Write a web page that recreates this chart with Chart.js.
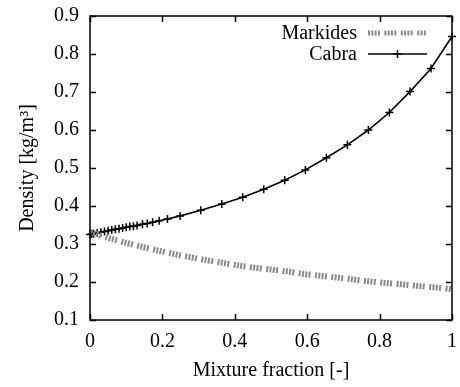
<!DOCTYPE html>
<html>
<head>
<meta charset="utf-8">
<script src="https://cdn.jsdelivr.net/npm/chart.js@4/dist/chart.umd.min.js"></script>
<style>
  html, body { margin: 0; padding: 0; background: #fff; }
  #wrap { width: 460px; height: 387px; }
</style>
</head>
<body>
<div id="wrap"><canvas id="c" width="460" height="387"></canvas></div>
<script>
// Mixture fraction grid and density for the Cabra data (kg/m^3)
const cabraZ = [0, 0.005, 0.01, 0.02, 0.03, 0.04, 0.05, 0.06, 0.07, 0.08, 0.09, 0.10, 0.11, 0.12, 0.13,
  0.145, 0.158, 0.173, 0.191, 0.214, 0.249, 0.306, 0.364, 0.422, 0.480, 0.538, 0.595, 0.653,
  0.711, 0.769, 0.827, 0.884, 0.942, 1.0];
const cabraRho = [0.325, 0.326, 0.327, 0.329, 0.331, 0.333, 0.335, 0.337, 0.339, 0.340, 0.342, 0.344, 0.346, 0.347, 0.349,
  0.352, 0.354, 0.357, 0.361, 0.366, 0.374, 0.389, 0.405, 0.423, 0.444, 0.468, 0.495, 0.527,
  0.561, 0.600, 0.646, 0.701, 0.762, 0.846];

// Markides data
const markidesZ = [0, 0.05, 0.1, 0.15, 0.2, 0.25, 0.3, 0.35, 0.4, 0.45, 0.5, 0.55, 0.6, 0.65, 0.7, 0.75, 0.8, 0.85, 0.9, 0.95, 1.0];
const markidesRho = [0.332, 0.316, 0.303, 0.291, 0.280, 0.270, 0.261, 0.253, 0.245, 0.238, 0.233, 0.227, 0.220, 0.215, 0.210,
  0.204, 0.199, 0.195, 0.190, 0.186, 0.181];

// Axis tick values
const xTicks = [0, 0.2, 0.4, 0.6, 0.8, 1];
const yTicks = [0.1, 0.2, 0.3, 0.4, 0.5, 0.6, 0.7, 0.8, 0.9];

const serif = "'Liberation Serif', 'DejaVu Serif', serif";
const markidesDash = [2, 1.3, 2, 1.3, 2, 1.3, 2, 4.5];

const toPoints = (xs, ys) => xs.map((x, i) => ({ x: x, y: ys[i] }));

// Frame, inward ticks on all four sides, and the key in the upper right
const framePlugin = {
  id: 'frame',
  afterDraw(chart) {
    const { ctx, chartArea: a, scales } = chart;
    const xs = scales.x, ys = scales.y;
    const tl = 6;
    ctx.save();
    ctx.strokeStyle = '#000';
    ctx.lineWidth = 1.5;
    ctx.beginPath();
    xTicks.forEach(v => {
      const px = Math.round(xs.getPixelForValue(v)) + 0.5;
      ctx.moveTo(px, a.bottom); ctx.lineTo(px, a.bottom - tl);
      ctx.moveTo(px, a.top); ctx.lineTo(px, a.top + tl);
    });
    yTicks.forEach(v => {
      const py = Math.round(ys.getPixelForValue(v)) + 0.5;
      ctx.moveTo(a.left, py); ctx.lineTo(a.left + tl, py);
      ctx.moveTo(a.right, py); ctx.lineTo(a.right - tl, py);
    });
    ctx.stroke();
    ctx.strokeRect(a.left, a.top, a.right - a.left, a.bottom - a.top);

    // key
    const textRight = 357, s0 = 368, s1 = 427;
    const rows = [
      { ds: chart.data.datasets[0], y: 33 },
      { ds: chart.data.datasets[1], y: 54 }
    ];
    ctx.font = '20px ' + serif;
    ctx.textAlign = 'right';
    ctx.textBaseline = 'middle';
    ctx.fillStyle = '#000';
    rows.forEach(r => {
      ctx.fillText(r.ds.label, textRight, r.y + 1);
      ctx.save();
      ctx.strokeStyle = r.ds.borderColor;
      ctx.lineWidth = r.ds.key === 'dash' ? 5 : r.ds.borderWidth;
      ctx.lineCap = 'butt';
      ctx.setLineDash(r.ds.borderDash || []);
      ctx.beginPath();
      ctx.moveTo(s0, r.y); ctx.lineTo(s1, r.y);
      ctx.stroke();
      ctx.restore();
      if (r.ds.pointRadius > 0) {
        const mx = (s0 + s1) / 2;
        ctx.save();
        ctx.strokeStyle = r.ds.pointBorderColor;
        ctx.lineWidth = r.ds.pointBorderWidth;
        ctx.beginPath();
        ctx.moveTo(mx - 4, r.y); ctx.lineTo(mx + 4, r.y);
        ctx.moveTo(mx, r.y - 4); ctx.lineTo(mx, r.y + 4);
        ctx.stroke();
        ctx.restore();
      }
    });
    ctx.restore();
  }
};

new Chart(document.getElementById('c'), {
  type: 'scatter',
  data: {
    datasets: [
      {
        label: 'Markides',
        key: 'dash',
        data: toPoints(markidesZ, markidesRho),
        showLine: true,
        borderColor: '#8a8a8a',
        borderWidth: 6,
        borderDash: markidesDash,
        borderCapStyle: 'butt',
        pointRadius: 0,
        tension: 0,
        clip: false
      },
      {
        label: 'Cabra',
        data: toPoints(cabraZ, cabraRho),
        showLine: true,
        borderColor: '#000',
        borderWidth: 1.6,
        pointStyle: 'cross',
        pointRadius: 4,
        pointBorderWidth: 1.5,
        pointBorderColor: '#000',
        pointBackgroundColor: '#000',
        tension: 0,
        clip: false
      }
    ]
  },
  options: {
    responsive: false,
    animation: false,
    events: [],
    layout: { padding: 0 },
    plugins: { legend: { display: false }, tooltip: { enabled: false } },
    scales: {
      x: {
        type: 'linear',
        min: 0, max: 1,
        afterFit(scale) { scale.height = 67; scale.paddingLeft = 0; scale.paddingRight = 8; },
        afterBuildTicks(scale) { scale.ticks = xTicks.map(v => ({ value: v })); },
        grid: { display: false, drawTicks: false },
        border: { display: false },
        ticks: {
          color: '#000',
          font: { family: serif, size: 20 },
          padding: 10,
          maxRotation: 0,
          callback: v => String(v)
        },
        title: {
          display: true,
          text: 'Mixture fraction [-]',
          color: '#000',
          font: { family: serif, size: 20 },
          padding: { top: 0, bottom: 4 }
        }
      },
      y: {
        type: 'linear',
        min: 0.1, max: 0.9,
        afterFit(scale) { scale.width = 90; scale.paddingTop = 16; scale.paddingBottom = 0; },
        afterBuildTicks(scale) { scale.ticks = yTicks.map(v => ({ value: v })); },
        grid: { display: false, drawTicks: false },
        border: { display: false },
        ticks: {
          color: '#000',
          font: { family: serif, size: 20 },
          padding: 11,
          callback: v => v.toFixed(1)
        },
        title: {
          display: true,
          text: 'Density [kg/m³]',
          color: '#000',
          font: { family: serif, size: 20 },
          padding: { top: 16, bottom: 0 }
        }
      }
    }
  },
  plugins: [framePlugin]
});
</script>
</body>
</html>
